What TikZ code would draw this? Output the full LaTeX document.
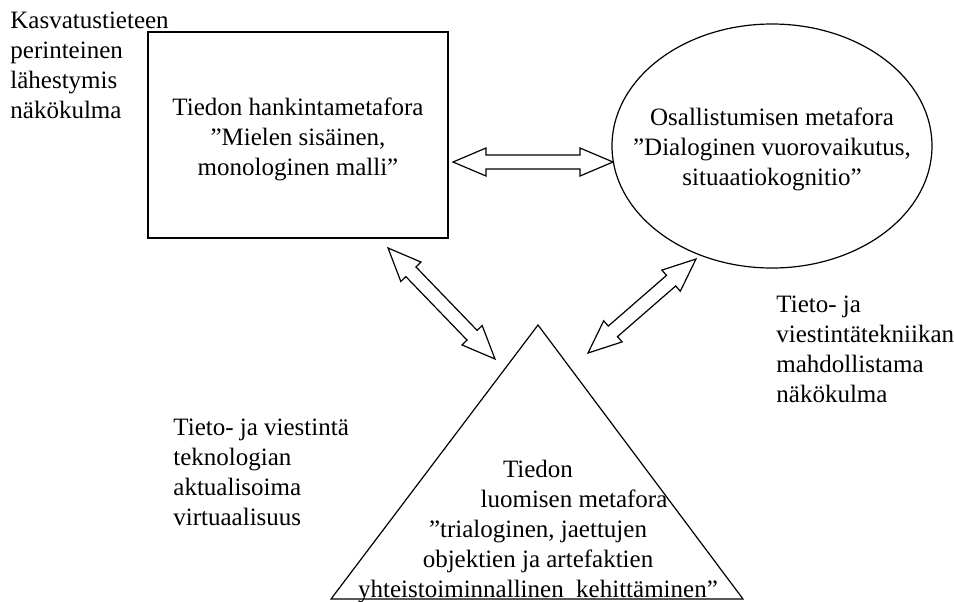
\documentclass[tikz,border=0pt]{standalone}
\usepackage{fontspec}
\setmainfont{Liberation Serif}
\usetikzlibrary{calc}
\tikzset{
  lbl/.style={inner sep=0pt, align=left, anchor=base west},
  keski/.style={inner sep=0pt, align=center, anchor=base},
  kuvio/.style={draw, line width=0.6pt, inner sep=0pt},
  fatline/.style={line width=0.6pt, line join=miter},
}
\newcommand{\fatarrow}[2]{%
  \draw[fatline] let \p1=($(#2)-(#1)$), \n1={atan2(\y1,\x1)} in
    (#1) -- ($(#1)+(\n1:16.5pt)+(\n1+90:7pt)$) -- ($(#1)+(\n1:16.5pt)+(\n1+90:3.5pt)$)
    -- ($(#2)+(\n1+180:16.5pt)+(\n1+90:3.5pt)$) -- ($(#2)+(\n1+180:16.5pt)+(\n1+90:7pt)$)
    -- (#2) -- ($(#2)+(\n1+180:16.5pt)+(\n1-90:7pt)$) -- ($(#2)+(\n1+180:16.5pt)+(\n1-90:3.5pt)$)
    -- ($(#1)+(\n1:16.5pt)+(\n1-90:3.5pt)$) -- ($(#1)+(\n1:16.5pt)+(\n1-90:7pt)$) -- cycle;}
\begin{document}
\begin{tikzpicture}[x=0.5pt, y=-0.5pt, font=\fontsize{12.5}{15}\selectfont]
\useasboundingbox (0,0) rectangle (954,601);
\node[lbl] (perinteinen) at (10,118) {Kasvatustieteen\\perinteinen\\lähestymis\\näkökulma};
\node[kuvio, minimum width=150pt, minimum height=103pt] (hankinta) at (298,135) {};
\node[keski] (hankintateksti) at (298,175) {Tiedon hankintametafora\\”Mielen sisäinen,\\monologinen malli”};
\draw[line width=0.6pt] (772,146) coordinate (osallistuminen) ellipse [x radius=160, y radius=122];
\node[keski] (osallistuminenteksti) at (772,185) {Osallistumisen metafora\\”Dialoginen vuorovaikutus,\\situaatiokognitio”};
\draw[line width=0.6pt] (538,325) coordinate (huippu) -- (743,599) -- (331,599) -- cycle;
\node[keski] (luominen) at (538,597)
  {Tiedon\\\hspace*{36pt}luomisen metafora\\”trialoginen, jaettujen\\objektien ja artefaktien\\yhteistoiminnallinen\ \ kehittäminen”};
\node[lbl] (mahdollistama) at (776,402) {Tieto- ja\\viestintätekniikan\\mahdollistama\\näkökulma};
\node[lbl] (virtuaalisuus) at (173,525) {Tieto- ja viestintä\\teknologian\\aktualisoima\\virtuaalisuus};
\coordinate (h1) at (453,162);
\coordinate (h2) at (613,162);
\coordinate (v1) at (388,248);
\coordinate (v2) at (495,359);
\coordinate (o1) at (696,259);
\coordinate (o2) at (588,353);
\fatarrow{h1}{h2}
\fatarrow{v1}{v2}
\fatarrow{o1}{o2}
\end{tikzpicture}
\end{document}
